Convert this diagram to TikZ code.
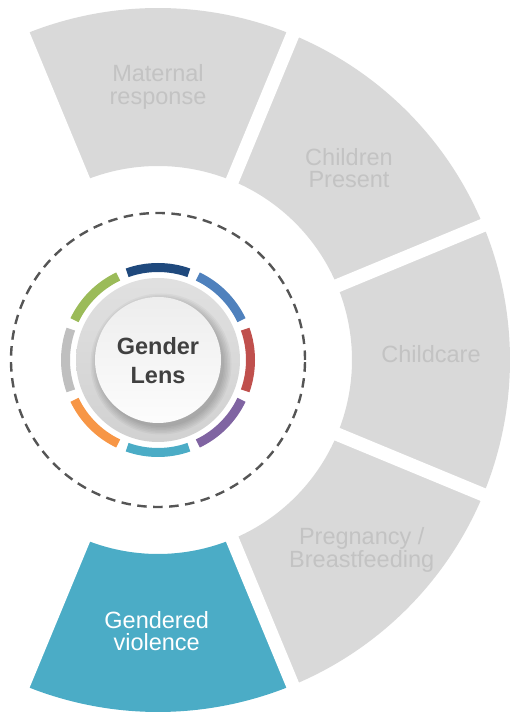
\documentclass[tikz,border=0pt]{standalone}
\usepackage{fontspec}
\setmainfont{Liberation Sans}
\definecolor{segfill}{HTML}{D9D9D9}
\definecolor{segtext}{HTML}{C3C3C3}
\definecolor{gvfill}{HTML}{4BACC6}
\definecolor{dashcol}{HTML}{555555}
\definecolor{lenstext}{HTML}{404040}
\definecolor{cA}{HTML}{1F497D}
\definecolor{cB}{HTML}{4F81BD}
\definecolor{cC}{HTML}{C0504D}
\definecolor{cD}{HTML}{8064A2}
\definecolor{cE}{HTML}{4BACC6}
\definecolor{cF}{HTML}{F79646}
\definecolor{cG}{HTML}{BFBFBF}
\definecolor{cH}{HTML}{9BBB59}
\begin{document}
\begin{tikzpicture}[x=1pt,y=1pt,
  segtxt/.style={anchor=base,text=segtext,font=\fontsize{23.5}{23}\selectfont,inner sep=0pt},
  gvtxt/.style={anchor=base,text=white,font=\fontsize{23.5}{23}\selectfont,inner sep=0pt},
  lenstxt/.style={anchor=base,text=lenstext,font=\fontsize{23.5}{28}\selectfont\bfseries,inner sep=0pt},
  ringarc/.style={line width=9pt,line cap=butt}]
\useasboundingbox (0,0) rectangle (516,714);
\begin{scope}[shift={(158,354)}]
  % outer segments
  \foreach \a/\c in {90/segfill,45/segfill,0/segfill,-45/segfill,-90/gvfill}{
    \fill[\c] (\a-22.5:194) arc[start angle=\a-22.5,end angle=\a+22.5,radius=194]
      -- (\a+22.5:352) arc[start angle=\a+22.5,end angle=\a-22.5,radius=352] -- cycle;
  }
  % white gaps
  \foreach \a in {112.5,67.5,22.5,-22.5,-67.5,-112.5}{
    \draw[white,line width=13.5pt] (\a:185) -- (\a:362);
  }
  % dashed circle
  \draw[dashcol,line width=2.4pt,dash pattern=on 9.5pt off 6.5pt] (0,0) circle[radius=147];
  % gray disk
  \shade[top color=white!88!black,bottom color=white!82!black] (0,0) circle[radius=82];
  % colored ring arcs
  \foreach \a/\c in {90/cA,45/cB,0/cC,-45/cD,-90/cE,-135/cF,180/cG,135/cH}{
    \draw[\c,ringarc] (\a-19.5:92.5) arc[start angle=\a-19.5,end angle=\a+19.5,radius=92.5];
  }
  % shadow of inner disk
  \foreach \r in {63,64.5,66,67.5,69,70.5}{
    \fill[black,opacity=0.035] (3,-4) circle[radius=\r];
  }
  % inner disk
  \shade[top color=white!93!black,bottom color=white!99!black] (0,0) circle[radius=63];
\end{scope}
% labels
\node[segtxt] (mat1) at (158,632) {Maternal};
\node[segtxt] (mat2) at (158,609.3) {response};
\node[segtxt] (chp1) at (349,548.3) {Children};
\node[segtxt] (chp2) at (349,526.3) {Present};
\node[segtxt] (chc) at (431,351.3) {Childcare};
\node[segtxt] (prg1) at (361.7,169) {Pregnancy /};
\node[segtxt] (prg2) at (361.7,146.3) {Breastfeeding};
\node[gvtxt] (gv1) at (156.7,85.7) {Gendered};
\node[gvtxt] (gv2) at (156.7,63) {violence};
\node[lenstxt] (gl1) at (158,359) {Gender};
\node[lenstxt] (gl2) at (158,330.7) {Lens};
\end{tikzpicture}
\end{document}
